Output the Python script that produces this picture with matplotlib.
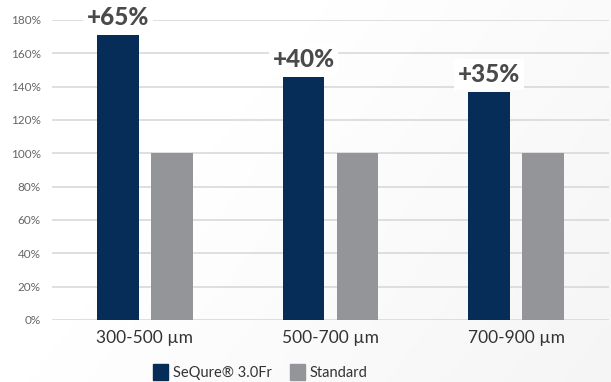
import matplotlib
matplotlib.use("Agg")
import matplotlib.pyplot as plt
import numpy as np
from matplotlib.patches import Patch

# data
categories = ["300-500 µm", "500-700 µm", "700-900 µm"]
sequre = [171, 146, 137]
standard = [100, 100, 100]
gain_labels = ["+65%", "+40%", "+35%"]
yticks = [0, 20, 40, 60, 80, 100, 120, 140, 160, 180]

NAVY = "#062d57"
GREY = "#939598"

plt.rcParams["font.family"] = ["Lato", "DejaVu Sans"]


def main():
    fig = plt.figure(figsize=(6.11, 3.82), dpi=100)

    # very soft grey gradient towards the right / bottom
    bg = fig.add_axes([0, 0, 1, 1], zorder=-10)
    xx, yy = np.meshgrid(np.linspace(0, 1, 200), np.linspace(0, 1, 200))
    shade = 1.0 - 0.04 * np.clip((xx * 1.0 + yy * 0.5) - 0.45, 0, None)
    bg.imshow(shade, cmap="gray", vmin=0, vmax=1, aspect="auto",
              extent=[0, 1, 0, 1], origin="upper")
    bg.axis("off")

    ax = fig.add_axes([52 / 611, 62 / 382, 557 / 611, 300 / 382])
    ax.set_facecolor("none")

    x = np.arange(len(categories))
    w = 0.225
    b1 = ax.bar(x - 0.145, sequre, w, color=NAVY, zorder=3)
    ax.bar(x + 0.145, standard, w, color=GREY, zorder=3)

    for rect, lab in zip(b1, gain_labels):
        ax.annotate(lab, (rect.get_x() + rect.get_width() / 2, rect.get_height()),
                    xytext=(0, 4), textcoords="offset points",
                    ha="center", va="bottom", fontsize=17.5, fontweight="black",
                    color="#4a4a4a", zorder=5,
                    bbox=dict(boxstyle="square,pad=0.15", fc="white", ec="none"))

    ax.set_xlim(-0.5, 2.5)
    ax.set_ylim(0, 180)
    ax.set_yticks(yticks)
    ax.set_yticklabels([f"{v}%" for v in yticks])
    ax.set_xticks(x)
    ax.set_xticklabels(categories)
    ax.tick_params(axis="y", length=0, labelsize=8.5, colors="#666666", pad=8)
    ax.tick_params(axis="x", length=0, labelsize=12.5, colors="#333333", pad=7)
    ax.yaxis.grid(True, color="#d9d9d9", linewidth=1.2, zorder=0)
    for s in ax.spines.values():
        s.set_visible(False)

    handles = [Patch(color=NAVY, label="SeQure® 3.0Fr"),
               Patch(color=GREY, label="Standard")]
    fig.legend(handles=handles, loc="lower center", bbox_to_anchor=(0.426, -0.03),
               ncol=2, frameon=False, fontsize=10.5, handlelength=1.03,
               handleheight=1.3, handletextpad=0.35, columnspacing=1.2,
               labelcolor="#333333")

    fig.savefig("out.png", dpi=100)
    plt.close(fig)


if __name__ == "__main__":
    main()
